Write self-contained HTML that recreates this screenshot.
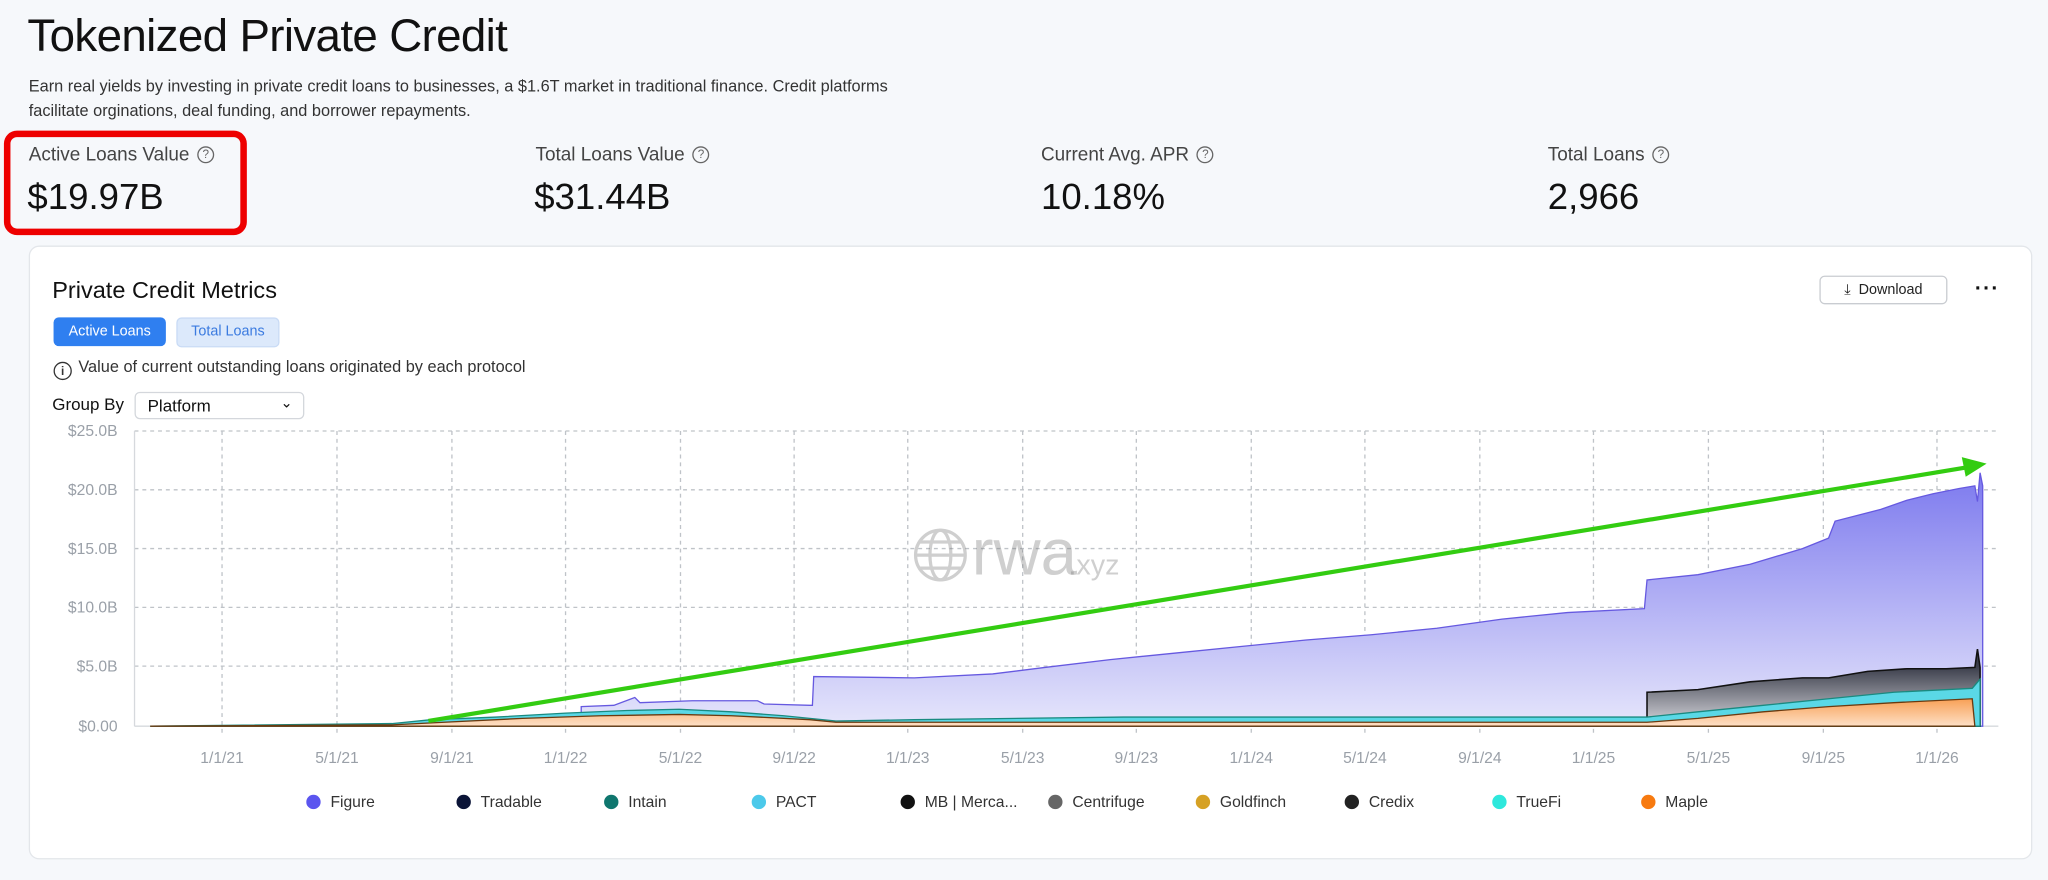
<!DOCTYPE html>
<html><head><meta charset="utf-8">
<style>
html,body{margin:0;padding:0;width:2048px;height:880px;overflow:hidden;background:#f6f8fb;}
#w{position:absolute;left:0;top:0;width:1568px;height:674px;transform:scale(1.30612);transform-origin:0 0;font-family:"Liberation Sans",sans-serif;color:#111;}
.a{position:absolute;white-space:nowrap;}
.q{display:inline-block;width:11px;height:11px;border:1.3px solid #666;border-radius:50%;font-size:9px;line-height:11px;text-align:center;color:#666;vertical-align:2px;margin-left:6px;}
</style></head><body><div id="w">
<div class="a" style="left:21px;top:8px;font-size:35px;letter-spacing:-0.5px;">Tokenized Private Credit</div>
<div class="a" style="left:22px;top:57px;font-size:12.5px;color:#333;line-height:19px;">Earn real yields by investing in private credit loans to businesses, a $1.6T market in traditional finance. Credit platforms<br>facilitate orginations, deal funding, and borrower repayments.</div>
<div class="a" style="left:3px;top:100px;width:176px;height:70px;border:5px solid #ee0000;border-radius:10px;"></div>
<div class="a" style="left:22px;top:111px;font-size:14.5px;color:#444;">Active Loans Value<span class="q">?</span></div>
<div class="a" style="left:410px;top:111px;font-size:14.5px;color:#444;">Total Loans Value<span class="q">?</span></div>
<div class="a" style="left:797px;top:111px;font-size:14.5px;color:#444;">Current Avg. APR<span class="q">?</span></div>
<div class="a" style="left:1185px;top:111px;font-size:14.5px;color:#444;">Total Loans<span class="q">?</span></div>
<div class="a" style="left:21px;top:135px;font-size:28px;">$19.97B</div>
<div class="a" style="left:409px;top:135px;font-size:28px;">$31.44B</div>
<div class="a" style="left:797px;top:135px;font-size:28px;">10.18%</div>
<div class="a" style="left:1185px;top:135px;font-size:28px;">2,966</div>
<div class="a" style="left:22px;top:188px;width:1534px;height:470px;background:#fff;border:1px solid #e3e6ea;border-radius:8px;box-sizing:border-box;"></div>
<div class="a" style="left:40px;top:212px;font-size:18px;">Private Credit Metrics</div>
<div class="a" style="left:41px;top:243px;width:86px;height:22px;background:#2f7ff0;border-radius:4px;color:#fff;font-size:11px;line-height:22px;text-align:center;">Active Loans</div>
<div class="a" style="left:135px;top:243px;width:77px;height:21px;background:#dce9fb;border:1px solid #c9dbf5;border-radius:4px;color:#3b7be0;font-size:11px;line-height:21px;text-align:center;">Total Loans</div>
<div class="a" style="left:41px;top:274px;font-size:12.5px;color:#333;"><span style="display:inline-block;width:12px;height:12px;border:1.3px solid #333;border-radius:50%;font-size:9px;line-height:12px;text-align:center;font-weight:bold;margin-right:5px;vertical-align:-2px;">i</span>Value of current outstanding loans originated by each protocol</div>
<div class="a" style="left:40px;top:302px;font-size:13px;">Group By</div>
<div class="a" style="left:103px;top:300px;width:130px;height:21px;border:1px solid #d4d7dc;border-radius:4px;box-sizing:border-box;font-size:13px;line-height:19px;padding-left:9px;">Platform<span style="position:absolute;right:8px;top:-1px;font-size:11px;">&#8964;</span></div>
<div class="a" style="left:1393px;top:211px;width:98px;height:22px;border:1px solid #c9ccd1;border-radius:4px;box-sizing:border-box;font-size:11px;line-height:20px;text-align:center;color:#222;">&#10515;&nbsp; Download</div>
<div class="a" style="left:1512px;top:213px;font-size:16px;font-weight:bold;letter-spacing:1px;">&middot;&middot;&middot;</div>
<svg class="a" style="left:0;top:0" width="1568" height="674" viewBox="0 0 1568 674" font-family="Liberation Sans, sans-serif">
<defs>
<linearGradient id="gp" x1="0" y1="360" x2="0" y2="556" gradientUnits="userSpaceOnUse"><stop offset="0" stop-color="#7b78ee"/><stop offset="1" stop-color="#e6e6fb"/></linearGradient>
<linearGradient id="gd" x1="0" y1="510" x2="0" y2="556" gradientUnits="userSpaceOnUse"><stop offset="0" stop-color="#3a3d4a"/><stop offset="1" stop-color="#d8d8de"/></linearGradient>
<linearGradient id="go" x1="0" y1="530" x2="0" y2="556" gradientUnits="userSpaceOnUse"><stop offset="0" stop-color="#f7913b"/><stop offset="1" stop-color="#fde0c6"/></linearGradient>
</defs>
<g fill="#9aa0a8" font-size="12" text-anchor="end">
<text x="90" y="334">$25.0B</text><text x="90" y="379">$20.0B</text><text x="90" y="424">$15.0B</text><text x="90" y="469">$10.0B</text><text x="90" y="514">$5.0B</text><text x="90" y="560">$0.00</text></g>
<g stroke="#bfc3c8" stroke-width="1" stroke-dasharray="3,3">
<line x1="103" y1="330" x2="1530" y2="330"/><line x1="103" y1="375" x2="1530" y2="375"/><line x1="103" y1="420" x2="1530" y2="420"/><line x1="103" y1="465" x2="1530" y2="465"/><line x1="103" y1="510" x2="1530" y2="510"/>
<line x1="170" y1="330" x2="170" y2="562"/><line x1="258" y1="330" x2="258" y2="562"/><line x1="346" y1="330" x2="346" y2="562"/><line x1="433" y1="330" x2="433" y2="562"/><line x1="521" y1="330" x2="521" y2="562"/><line x1="608" y1="330" x2="608" y2="562"/><line x1="695" y1="330" x2="695" y2="562"/><line x1="783" y1="330" x2="783" y2="562"/><line x1="870" y1="330" x2="870" y2="562"/><line x1="958" y1="330" x2="958" y2="562"/><line x1="1045" y1="330" x2="1045" y2="562"/><line x1="1133" y1="330" x2="1133" y2="562"/><line x1="1220" y1="330" x2="1220" y2="562"/><line x1="1308" y1="330" x2="1308" y2="562"/><line x1="1396" y1="330" x2="1396" y2="562"/><line x1="1483" y1="330" x2="1483" y2="562"/></g>
<line x1="103" y1="330" x2="103" y2="556" stroke="#d6d9dd"/>
<line x1="103" y1="556" x2="1530" y2="556" stroke="#d6d9dd"/>
<g fill="#9aa0a8" font-size="12" text-anchor="middle">
<text x="170" y="584">1/1/21</text><text x="258" y="584">5/1/21</text><text x="346" y="584">9/1/21</text><text x="433" y="584">1/1/22</text><text x="521" y="584">5/1/22</text><text x="608" y="584">9/1/22</text><text x="695" y="584">1/1/23</text><text x="783" y="584">5/1/23</text><text x="870" y="584">9/1/23</text><text x="958" y="584">1/1/24</text><text x="1045" y="584">5/1/24</text><text x="1133" y="584">9/1/24</text><text x="1220" y="584">1/1/25</text><text x="1308" y="584">5/1/25</text><text x="1396" y="584">9/1/25</text><text x="1483" y="584">1/1/26</text></g>
<g opacity="0.35" fill="none" stroke="#777" stroke-width="2.5"><circle cx="720" cy="425" r="19"/><ellipse cx="720" cy="425" rx="8" ry="19"/><line x1="701" y1="425" x2="739" y2="425"/><line x1="704" y1="415" x2="736" y2="415"/><line x1="704" y1="435" x2="736" y2="435"/></g>
<text x="744" y="440" font-size="50" fill="#777" opacity="0.35">rwa</text><text x="818" y="440" font-size="22" fill="#777" opacity="0.35">.xyz</text>
<path d="M445,556 L445,541 L470,540 L486,534 L490,538 L530,536.5 L580,536.5 L585,539 L620,540 L622,540 L623,518 L700,519 L760,516 L800,511 L850,505 L900,500 L950,495 L1000,490 L1050,486 L1100,481 L1150,474 L1200,469 L1259,466 L1261,444 L1300,440 L1340,432 L1360,426 L1380,420 L1400,412 L1405,399 L1440,390 L1460,383 L1480,378 L1500,374 L1512,372 L1514,384 L1516,362 L1518,372 L1518,556 Z" fill="url(#gp)" stroke="#6659e0" stroke-width="1"/>
<path d="M1261,556 L1261,530 L1300,528 L1340,522 L1380,519 L1400,519 L1430,514 L1460,512 L1490,512 L1512,511 L1514,497 L1516,511 L1516,556 Z" fill="url(#gd)" stroke="#111" stroke-width="1.2"/>
<path d="M115,556 L300,554 L330,551 L380,549 L433,546 L480,544 L520,543 L560,545 L600,548 L640,552 L700,551 L860,549 L1261,549 L1300,545 L1350,540 L1400,535 L1450,530 L1510,527 L1516,520 L1516,556 Z" fill="#5ad8e6" stroke="#1a8a80" stroke-width="1"/>
<path d="M115,556 L300,555 L340,553 L400,550 L460,548 L520,547 L560,548 L620,551 L640,553 L700,553 L1261,553 L1300,550 L1350,545 L1400,541 L1450,538 L1510,535 L1512,556 Z" fill="url(#go)" stroke="#6a3a10" stroke-width="1"/>
<g stroke="#33cc11" stroke-width="3.2" fill="#33cc11"><line x1="328" y1="552" x2="1505" y2="358"/><polygon points="1521,355 1502,350 1505,365" stroke="none"/></g>
<g font-size="12" fill="#333">
<circle cx="240" cy="614" r="5.5" fill="#5b55ef"/><text x="253" y="618">Figure</text>
<circle cx="355" cy="614" r="5.5" fill="#0b1437"/><text x="368" y="618">Tradable</text>
<circle cx="468" cy="614" r="5.5" fill="#0f766e"/><text x="481" y="618">Intain</text>
<circle cx="581" cy="614" r="5.5" fill="#4cc9ea"/><text x="594" y="618">PACT</text>
<circle cx="695" cy="614" r="5.5" fill="#111"/><text x="708" y="618">MB | Merca...</text>
<circle cx="808" cy="614" r="5.5" fill="#666"/><text x="821" y="618">Centrifuge</text>
<circle cx="921" cy="614" r="5.5" fill="#d6a124"/><text x="934" y="618">Goldfinch</text>
<circle cx="1035" cy="614" r="5.5" fill="#222"/><text x="1048" y="618">Credix</text>
<circle cx="1148" cy="614" r="5.5" fill="#2ee8dc"/><text x="1161" y="618">TrueFi</text>
<circle cx="1262" cy="614" r="5.5" fill="#f77a10"/><text x="1275" y="618">Maple</text></g>
</svg>
</div></body></html>
